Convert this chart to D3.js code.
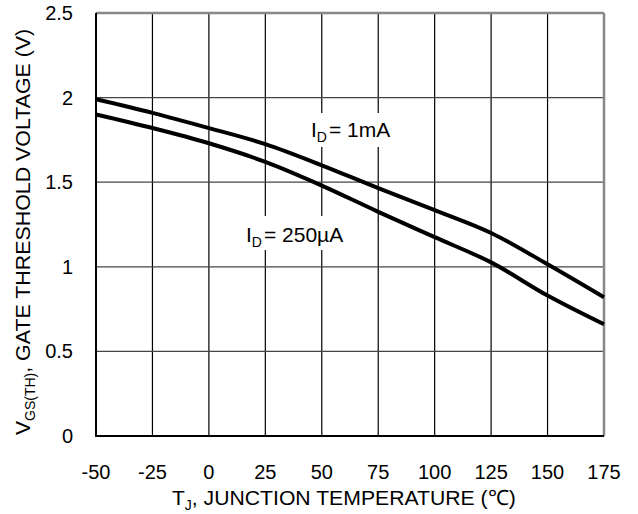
<html>
<head>
<script src="https://d3js.org/d3.v7.min.js"></script>
<style>
  body { margin: 0; background: #fff; }
  text { font-family: "Liberation Sans", Arial, sans-serif; fill: #000; }
</style>
</head>
<body>
<script>
var temps = [-50, -25, 0, 25, 50, 75, 100, 125, 150, 175];
var vth1mA = [1.99, 1.91, 1.82, 1.725, 1.60, 1.465, 1.335, 1.20, 1.015, 0.82];
var vth250uA = [1.90, 1.82, 1.73, 1.62, 1.48, 1.325, 1.175, 1.026, 0.83, 0.66];
var xTicks = [-50, -25, 0, 25, 50, 75, 100, 125, 150, 175];
var yTicks = [0, 0.5, 1, 1.5, 2, 2.5];

var W = 638, H = 514;
var pl = 96, pr = 604, pt = 13, pb = 436;

var svg = d3.select("body").append("svg")
  .attr("width", W)
  .attr("height", H);

var x = d3.scaleLinear().domain([-50, 175]).range([pl, pr]);
var y = d3.scaleLinear().domain([0, 2.5]).range([pb, pt]);

// grid
svg.append("g").selectAll("line")
  .data(xTicks.slice(1, -1))
  .enter().append("line")
  .attr("x1", function(d) { return x(d); })
  .attr("x2", function(d) { return x(d); })
  .attr("y1", pt).attr("y2", pb)
  .attr("stroke", "#000").attr("stroke-width", 1.2);

svg.append("g").selectAll("line")
  .data(yTicks.slice(1, -1))
  .enter().append("line")
  .attr("x1", pl).attr("x2", pr)
  .attr("y1", function(d) { return y(d); })
  .attr("y2", function(d) { return y(d); })
  .attr("stroke", "#444").attr("stroke-width", 1.2);

// white boxes behind the labels
svg.append("rect").attr("x", 304).attr("y", 113).attr("width", 94).attr("height", 34).attr("fill", "#fff");
svg.append("rect").attr("x", 240).attr("y", 216).attr("width", 112).attr("height", 34).attr("fill", "#fff");

// frame
svg.append("line").attr("x1", pl).attr("x2", pr).attr("y1", pt).attr("y2", pt)
  .attr("stroke", "#888").attr("stroke-width", 2.5);
svg.append("line").attr("x1", pr).attr("x2", pr).attr("y1", pt).attr("y2", pb)
  .attr("stroke", "#888").attr("stroke-width", 2.5);
svg.append("line").attr("x1", pl).attr("x2", pl).attr("y1", pt).attr("y2", pb + 1)
  .attr("stroke", "#000").attr("stroke-width", 2);
svg.append("line").attr("x1", pl).attr("x2", pr).attr("y1", pb).attr("y2", pb)
  .attr("stroke", "#000").attr("stroke-width", 2);

// curves
var line = d3.line()
  .x(function(d) { return x(d[0]); })
  .y(function(d) { return y(d[1]); })
  .curve(d3.curveMonotoneX);

[vth1mA, vth250uA].forEach(function(s) {
  svg.append("path")
    .datum(temps.map(function(t, i) { return [t, s[i]]; }))
    .attr("d", line)
    .attr("fill", "none")
    .attr("stroke", "#000")
    .attr("stroke-width", 4);
});

// tick labels
svg.append("g").selectAll("text")
  .data(xTicks)
  .enter().append("text")
  .attr("x", function(d) { return x(d); })
  .attr("y", 479)
  .attr("text-anchor", "middle")
  .attr("font-size", 20)
  .text(function(d) { return d; });

svg.append("g").selectAll("text")
  .data(yTicks)
  .enter().append("text")
  .attr("x", 73)
  .attr("y", function(d) { return y(d) + 7; })
  .attr("text-anchor", "end")
  .attr("font-size", 20)
  .text(function(d) { return d; });

// series labels
function label(px, py, sub, rest) {
  var t = svg.append("text").attr("x", px).attr("y", py).attr("font-size", 21);
  t.append("tspan").text("I");
  t.append("tspan").attr("dy", 5).attr("font-size", 14).text(sub);
  t.append("tspan").attr("dy", -5).attr("dx", 2).text(rest);
}
label(311, 137, "D", "= 1mA");
label(246, 242, "D", "= 250\u00b5A");

// axis titles
var xt = svg.append("text").attr("x", 172).attr("y", 505)
  .attr("font-size", 21);
xt.append("tspan").text("T");
xt.append("tspan").attr("dy", 5).attr("font-size", 14).text("J");
xt.append("tspan").attr("dy", -5).attr("textLength", 324).attr("lengthAdjust", "spacingAndGlyphs")
  .text(", JUNCTION TEMPERATURE (\u2103)");

var yt = svg.append("text")
  .attr("transform", "translate(30,435) rotate(-90)")
  .attr("font-size", 21);
yt.append("tspan").text("V");
yt.append("tspan").attr("dy", 5).attr("font-size", 14).text("GS(TH)");
yt.append("tspan").attr("dy", -5).attr("textLength", 344).attr("lengthAdjust", "spacingAndGlyphs")
  .text(", GATE THRESHOLD VOLTAGE (V)");
</script>
</body>
</html>
